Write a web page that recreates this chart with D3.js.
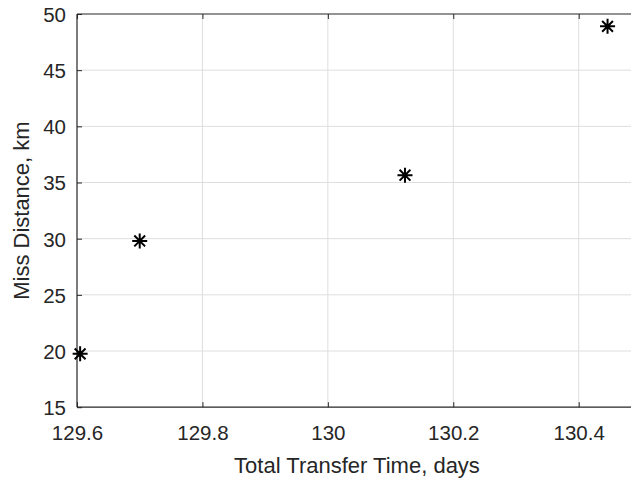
<!DOCTYPE html>
<html>
<head>
<meta charset="utf-8">
<script src="https://cdn.jsdelivr.net/npm/d3@7"></script>
<style>
  body { margin: 0; background: #fff; }
  svg { display: block; font-family: "Liberation Sans", Arial, sans-serif; }
</style>
</head>
<body>
<div id="chart"></div>
<script>
// data
var transferTime = [129.605, 129.700, 130.123, 130.446];
var missDistance = [19.75, 29.8, 35.65, 48.9];
var xTicks = [129.6, 129.8, 130, 130.2, 130.4];
var yTicks = [15, 20, 25, 30, 35, 40, 45, 50];

var width = 631, height = 481;
var margin = { left: 77, top: 14, right: -3, bottom: 74 };
var inkColor = '#262626';

var svg = d3.select('#chart')
  .append('svg')
  .attr('width', width)
  .attr('height', height);

var x = d3.scaleLinear()
  .domain([129.6, 130.4])
  .range([margin.left, 578.7]);
var y = d3.scaleLinear()
  .domain([15, 50])
  .range([height - margin.bottom + 0.2, margin.top]);

var plotRight = width - margin.right;

// grid
svg.append('g').selectAll('line.gx')
  .data(xTicks.slice(1))
  .enter().append('line')
  .attr('x1', function (d) { return x(d); })
  .attr('x2', function (d) { return x(d); })
  .attr('y1', y(15)).attr('y2', y(50))
  .attr('stroke', '#dedede').attr('stroke-width', 1);

svg.append('g').selectAll('line.gy')
  .data(yTicks.slice(1, -1))
  .enter().append('line')
  .attr('x1', margin.left).attr('x2', plotRight)
  .attr('y1', function (d) { return y(d); })
  .attr('y2', function (d) { return y(d); })
  .attr('stroke', '#dedede').attr('stroke-width', 1);

// axes (ticks point inward)
var xAxis = svg.append('g')
  .attr('transform', 'translate(0,' + y(15) + ')')
  .call(d3.axisBottom(x).tickValues(xTicks).tickSizeInner(-5).tickSizeOuter(0)
    .tickFormat(function (d) { return d3.format('')(+d.toFixed(1)); }));

var xAxisTop = svg.append('g')
  .attr('transform', 'translate(0,' + y(50) + ')')
  .call(d3.axisTop(x).tickValues(xTicks).tickSizeInner(-5).tickSizeOuter(0).tickFormat(''));

var yAxis = svg.append('g')
  .attr('transform', 'translate(' + margin.left + ',0)')
  .call(d3.axisLeft(y).tickValues(yTicks).tickSizeInner(-5).tickSizeOuter(0));

[xAxis, xAxisTop, yAxis].forEach(function (g) {
  g.select('.domain').remove();
  g.selectAll('line').attr('stroke', inkColor);
  g.selectAll('text')
    .attr('fill', inkColor)
    .style('font-size', '20.5px')
    .style('font-family', '"Liberation Sans", Arial, sans-serif');
});
xAxis.selectAll('text').attr('y', 0).attr('dy', 0)
  .attr('transform', 'translate(0,33)');
yAxis.selectAll('text').attr('x', -11).attr('dy', '0.36em');

// axis lines
svg.append('line')
  .attr('x1', margin.left).attr('x2', plotRight)
  .attr('y1', y(15)).attr('y2', y(15))
  .attr('stroke', inkColor).attr('stroke-width', 1.2);
svg.append('line')
  .attr('x1', margin.left).attr('x2', plotRight)
  .attr('y1', y(50)).attr('y2', y(50))
  .attr('stroke', inkColor).attr('stroke-width', 1.2);
svg.append('line')
  .attr('x1', margin.left).attr('x2', margin.left)
  .attr('y1', y(15)).attr('y2', y(50))
  .attr('stroke', inkColor).attr('stroke-width', 1.2);

// asterisk markers
var r = 7.5;
var markers = svg.append('g').selectAll('g.pt')
  .data(transferTime)
  .enter().append('g')
  .attr('transform', function (d, i) {
    return 'translate(' + x(d) + ',' + y(missDistance[i]) + ')';
  });
markers.append('path')
  .attr('d', 'M0,' + (-r) + 'V' + r +
    'M' + (-r) + ',0H' + r +
    'M' + (-r * 0.72) + ',' + (-r * 0.72) + 'L' + (r * 0.72) + ',' + (r * 0.72) +
    'M' + (-r * 0.72) + ',' + (r * 0.72) + 'L' + (r * 0.72) + ',' + (-r * 0.72))
  .attr('stroke', '#000')
  .attr('stroke-width', 2)
  .attr('fill', 'none');

// labels
svg.append('text')
  .attr('x', 357)
  .attr('y', 473)
  .attr('text-anchor', 'middle')
  .attr('fill', inkColor)
  .style('font-size', '22px')
  .text('Total Transfer Time, days');

svg.append('text')
  .attr('transform', 'translate(28.5,' + ((y(15) + y(50)) / 2) + ') rotate(-90)')
  .attr('text-anchor', 'middle')
  .attr('fill', inkColor)
  .style('font-size', '22px')
  .text('Miss Distance, km');
</script>
</body>
</html>
